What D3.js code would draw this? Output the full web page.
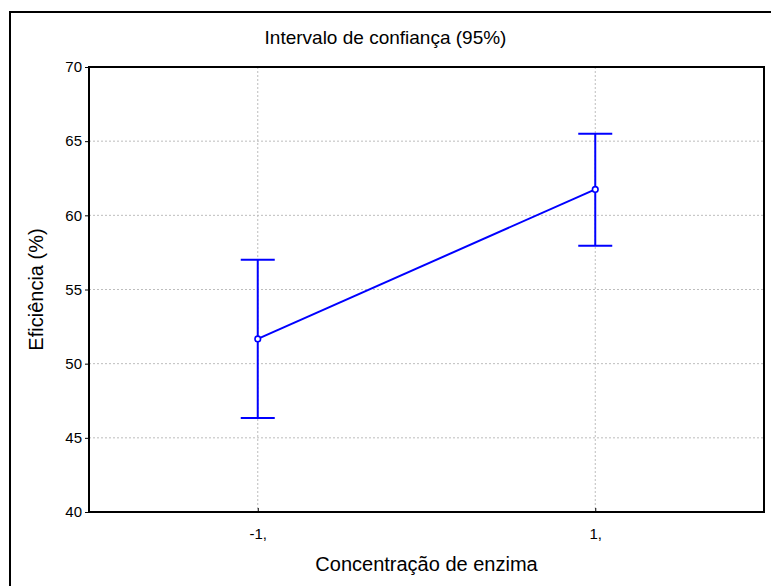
<!DOCTYPE html>
<html>
<head>
<meta charset="utf-8">
<script src="https://cdn.jsdelivr.net/npm/d3@7"></script>
<style>
  body { margin: 0; background: #fff; }
  text { font-family: Arial, "Liberation Sans", sans-serif; }
</style>
</head>
<body>
<div id="chart"></div>
<script>
// data
const levels = ["-1,", "1,"];
const levelX = [-1, 1];
const means = [51.67, 61.75];
const lower = [46.33, 57.95];
const upper = [57.0, 65.5];
const yTicks = [40, 45, 50, 55, 60, 65, 70];

const points = levels.map((l, i) => ({
  label: l, x: levelX[i], mean: means[i], lo: lower[i], hi: upper[i]
}));

const width = 771, height = 586;
const margin = {top: 67, right: 7, bottom: 74, left: 89};
const iw = width - margin.left - margin.right;
const ih = height - margin.top - margin.bottom;

const svg = d3.select("#chart")
  .append("svg")
  .attr("width", width)
  .attr("height", height);

// outer frame (runs off the right and bottom edges)
svg.append("rect")
  .attr("x", 10).attr("y", 12)
  .attr("width", width + 10).attr("height", height + 10)
  .attr("fill", "none")
  .attr("stroke", "#000")
  .attr("stroke-width", 2);

const g = svg.append("g")
  .attr("transform", `translate(${margin.left},${margin.top})`);

// scales
const x = d3.scaleLinear().domain([-2, 2]).range([0, iw]);
const y = d3.scaleLinear().domain([40, 70]).range([ih, 0]);

// grid
g.append("g")
  .selectAll("line")
  .data(yTicks.slice(1, -1))
  .join("line")
  .attr("x1", 0).attr("x2", iw)
  .attr("y1", d => y(d)).attr("y2", d => y(d))
  .attr("stroke", "#bdbdbd")
  .attr("stroke-dasharray", "2,2");

g.append("g")
  .selectAll("line")
  .data(levelX)
  .join("line")
  .attr("x1", d => x(d)).attr("x2", d => x(d))
  .attr("y1", 0).attr("y2", ih)
  .attr("stroke", "#bdbdbd")
  .attr("stroke-dasharray", "2,2");

// axes
const yAxis = g.append("g")
  .call(d3.axisLeft(y).tickValues(yTicks).tickSize(4).tickPadding(3));
yAxis.select(".domain").remove();
yAxis.selectAll("text").attr("font-size", 15).attr("fill", "#000");

const xAxis = g.append("g")
  .attr("transform", `translate(0,${ih})`)
  .call(d3.axisBottom(x).tickValues(levelX)
    .tickFormat((d, i) => levels[i]).tickSizeInner(-4).tickSizeOuter(0).tickPadding(16));
xAxis.select(".domain").remove();
xAxis.selectAll("text").attr("font-size", 15).attr("fill", "#000");

// plot frame
g.append("rect")
  .attr("width", iw).attr("height", ih)
  .attr("fill", "none")
  .attr("stroke", "#000")
  .attr("stroke-width", 2);

// error bars
const blue = "#0000ff";
const capW = 17;
const bars = g.append("g")
  .selectAll("g")
  .data(points)
  .join("g");
bars.append("line")
  .attr("x1", d => x(d.x)).attr("x2", d => x(d.x))
  .attr("y1", d => y(d.lo)).attr("y2", d => y(d.hi))
  .attr("stroke", blue).attr("stroke-width", 2);
bars.append("line")
  .attr("x1", d => x(d.x) - capW).attr("x2", d => x(d.x) + capW)
  .attr("y1", d => y(d.hi)).attr("y2", d => y(d.hi))
  .attr("stroke", blue).attr("stroke-width", 2);
bars.append("line")
  .attr("x1", d => x(d.x) - capW).attr("x2", d => x(d.x) + capW)
  .attr("y1", d => y(d.lo)).attr("y2", d => y(d.lo))
  .attr("stroke", blue).attr("stroke-width", 2);

// mean line
g.append("path")
  .datum(points)
  .attr("fill", "none")
  .attr("stroke", blue)
  .attr("stroke-width", 2)
  .attr("d", d3.line().x(d => x(d.x)).y(d => y(d.mean)));

g.selectAll("circle")
  .data(points)
  .join("circle")
  .attr("cx", d => x(d.x)).attr("cy", d => y(d.mean))
  .attr("r", 2.8)
  .attr("fill", "#fff")
  .attr("stroke", blue)
  .attr("stroke-width", 1.6);

// titles
svg.append("text")
  .attr("x", width / 2).attr("y", 44)
  .attr("text-anchor", "middle")
  .attr("font-size", 19)
  .text("Intervalo de confiança (95%)");

svg.append("text")
  .attr("x", margin.left + iw / 2).attr("y", 571)
  .attr("text-anchor", "middle")
  .attr("font-size", 20)
  .text("Concentração de enzima");

svg.append("text")
  .attr("transform", `translate(43,${margin.top + ih / 2}) rotate(-90)`)
  .attr("text-anchor", "middle")
  .attr("font-size", 20)
  .text("Eficiência (%)");
</script>
</body>
</html>
